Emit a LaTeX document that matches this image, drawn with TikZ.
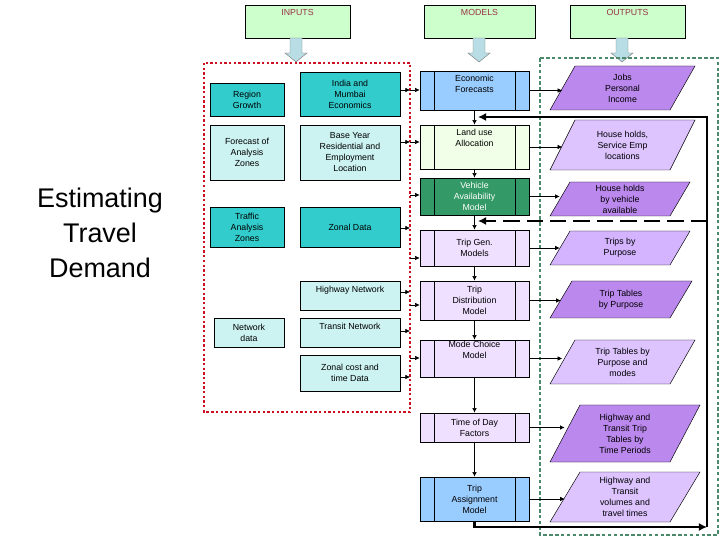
\documentclass[tikz,border=0pt]{standalone}
\usepackage{fontspec}
\setmainfont{Liberation Sans}
\usetikzlibrary{arrows.meta}
\definecolor{hdr}{HTML}{CCFFCC}
\definecolor{hdrt}{HTML}{993344}
\definecolor{tealA}{HTML}{33CCCC}
\definecolor{tealB}{HTML}{CCF2F2}
\definecolor{mblue}{HTML}{99CCFF}
\definecolor{mgreenL}{HTML}{F2FFE8}
\definecolor{mgreen}{HTML}{339966}
\definecolor{mlav}{HTML}{F0E0FF}
\definecolor{pdark}{HTML}{BB88EE}
\definecolor{plight}{HTML}{DDC4FF}
\definecolor{pmid}{HTML}{D4B4FF}
\definecolor{harrow}{HTML}{B8DDE4}
\definecolor{redd}{HTML}{CC1122}
\definecolor{gdash}{HTML}{4A8A6A}
\newcommand\outp[6]{%
  \draw[fill=#4] (550,#3) -- (670,#3) -- ({670+#6},#2) -- ({550+#6},#2) -- cycle;
  \node[txt,minimum width=3.6cm,inner sep=0pt] (#1) at ({610+#6/2},{(#2+#3)/2}) {#5};}
\newcommand\harr[2]{%
  \draw[fill=harrow,draw=gray] (#1-6,#2) -- (#1+6,#2) -- (#1+6,#2+15) -- (#1+11,#2+15) -- (#1,#2+24) -- (#1-11,#2+15) -- (#1-6,#2+15) -- cycle;}
\begin{document}
\begin{tikzpicture}[x=0.03cm,y=-0.03cm,
  txt/.style={align=center,font=\fontsize{7.5}{9.4}\selectfont},
  bx/.style={txt,draw=black,line width=0.5pt,inner sep=1pt},
  hd/.style={bx,fill=hdr,text=hdrt,minimum width=3.2cm,minimum height=0.99cm,anchor=north,text depth=0.55cm},
  inA/.style={bx,fill=tealA},
  inB/.style={bx,fill=tealB},
  md/.style={bx,minimum width=3.27cm,
    path picture={\draw ([xshift=0.42cm]path picture bounding box.north west) -- ([xshift=0.42cm]path picture bounding box.south west);
                  \draw ([xshift=-0.42cm]path picture bounding box.north east) -- ([xshift=-0.42cm]path picture bounding box.south east);}},
  ar/.style={-{Latex[length=4pt,width=4pt]},line width=0.6pt},
  fb/.style={line width=2.2pt,-{Latex[length=7pt,width=7pt]}}]
\useasboundingbox (0,0) rectangle (720,540);
% headers
\node[hd,minimum width=3.15cm] (hin) at (297.5,5) {INPUTS};
\node[hd,minimum width=3.33cm] (hmo) at (479.5,5) {MODELS};
\node[hd,minimum width=3.45cm] (hou) at (627.5,5) {OUTPUTS};
\harr{296}{38}\harr{479}{38}\harr{622}{38}
% boxes
\draw[redd,line width=2pt,dotted] (204,63) rectangle (410,412);
\draw[gdash,line width=1.6pt,dash pattern=on 3pt off 2pt] (540,58) rectangle (718,535);
\node[font=\fontsize{23}{30}\selectfont,align=center] (title) at (100,233) {Estimating\\Travel\\Demand};
% inputs
\node[inA,minimum width=2.22cm,minimum height=0.99cm] (rg) at (247,99.5) {Region\\Growth};
\node[inB,minimum width=2.22cm,minimum height=1.65cm] (fa) at (247,152.5) {Forecast of\\Analysis\\Zones};
\node[inA,minimum width=2.22cm,minimum height=1.2cm] (ta) at (247,227) {Traffic\\Analysis\\Zones};
\node[inB,minimum width=2.1cm,minimum height=0.87cm] (nd) at (249,332.5) {Network\\data};
\node[inA,minimum width=3cm,minimum height=1.32cm] (im) at (350,94) {India and\\Mumbai\\Economics};
\node[inB,minimum width=3cm,minimum height=1.65cm] (by) at (350,152.5) {Base Year\\Residential and\\Employment\\Location};
\node[inA,minimum width=3cm,minimum height=1.2cm] (zd) at (350,227) {Zonal Data};
\node[inB,minimum width=3cm,minimum height=0.87cm,text depth=0.35cm] (hn) at (350,295.5) {Highway Network};
\node[inB,minimum width=3cm,minimum height=0.87cm,text depth=0.35cm] (tn) at (350,332.5) {Transit Network};
\node[inB,minimum width=3cm,minimum height=1.08cm] (zc) at (350,373) {Zonal cost and\\time Data};
% models
\node[md,fill=mblue,minimum height=1.17cm] (ef) at (474.5,90.5) {Economic\\Forecasts\\[0.3em]};
\node[md,fill=mgreenL,minimum height=1.32cm] (lu) at (474.5,147) {Land use\\Allocation\\[0.8em]};
\node[md,fill=mgreen,text=white,minimum height=1.11cm] (va) at (474.5,196.5) {Vehicle\\Availability\\Model};
\node[md,fill=mlav,minimum height=1.08cm] (tg) at (474.5,248) {Trip Gen.\\Models};
\node[md,fill=mlav,minimum height=1.17cm] (td) at (474.5,300.5) {Trip\\Distribution\\Model};
\node[md,fill=mlav,minimum height=1.11cm] (mc) at (474.5,358.5) {Mode Choice\\Model\\[0.7em]};
\node[md,fill=mlav,minimum height=0.87cm] (tf) at (474.5,427.5) {Time of Day\\Factors};
\node[md,fill=mblue,minimum height=1.32cm] (tam) at (474.5,499) {Trip\\Assignment\\Model};
% outputs
\outp{o1}{66}{110}{pdark}{Jobs\\Personal\\Income}{25}
\outp{o2}{120}{170}{plight}{House holds,\\Service Emp\\locations}{25}
\outp{o3}{182}{216}{pdark}{House holds\\by vehicle\\available}{20}
\outp{o4}{231}{265}{pmid}{Trips by\\Purpose}{20}
\outp{o5}{281}{318}{pdark}{Trip Tables\\by Purpose}{22}
\outp{o6}{340}{384}{plight}{Trip Tables by\\Purpose and\\modes}{25}
\outp{o7}{405}{462}{pdark}{Highway and\\Transit Trip\\Tables by\\Time Periods}{30}
\outp{o8}{472}{522}{plight}{Highway and\\Transit\\volumes and\\travel times}{30}
% model -> output
\foreach \m/\o in {ef/o1,lu/o2,va/o3,tg/o4,td/o5,mc/o6,tam/o8}
  \draw[ar] (\m.east) -- (\m.east -| \o.west);
\draw[ar,line width=1.6pt] (tf.east) -- (tf.east -| o7.west);
% model chain
\foreach \a/\b in {ef/lu,lu/va,va/tg,tg/td,td/mc,mc/tf,tf/tam}
  \draw[ar] (\a.south) -- (\b.north);
% inputs -> red box -> models
\foreach \n/\y in {im/90,by/142}{
  \coordinate (c\n) at (410,\y);
  \draw[ar] (\n.east |- c\n) -- (c\n);}
\foreach \n/\y in {zd/228,hn/292,tn/331,zc/377}{
  \coordinate (c\n) at (410,\y);
  \draw[ar] (\n.east |- c\n) -- (c\n);}
\foreach \m/\y in {ef/90,lu/142,va/195,tg/258,td/305,mc/358}{
  \coordinate (d\m) at (410,\y);
  \draw[ar] (d\m) -- (d\m -| \m.west);}
% feedback
\coordinate (f1) at (474.5,527);
\coordinate (f2) at (707,527);
\coordinate (f3) at (707,117);
\coordinate (f4) at (478,117);
\coordinate (f5) at (707,221);
\coordinate (f6) at (478,221);
\draw[fb] (tam.south) -- (f1) -- (f2);
\draw[fb] (f2) -- (f3) -- (f4);
\draw[fb,dash pattern=on 14pt off 6pt] (f5) -- (f6);
\end{tikzpicture}
\end{document}
